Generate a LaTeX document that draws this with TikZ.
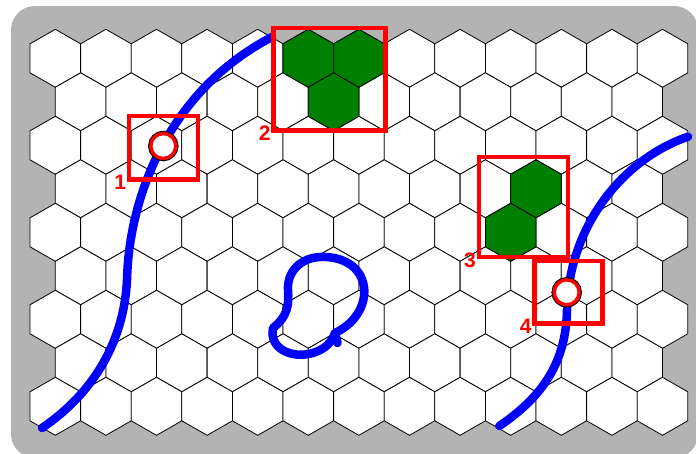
\documentclass[tikz,border=0pt]{standalone}
\usepackage{fontspec}
\newfontfamily\labfont{Liberation Sans}
\definecolor{bggray}{RGB}{179,179,179}
\definecolor{hexgreen}{RGB}{0,128,0}
\def\HW{25.3}
\def\HR{29}
\def\HH{14.5}
\newcommand\drawhex[3]{%
  \draw[#1] ({#2},{#3-\HR}) -- ({#2+\HW},{#3-\HH}) -- ({#2+\HW},{#3+\HH}) --
    ({#2},{#3+\HR}) -- ({#2-\HW},{#3+\HH}) -- ({#2-\HW},{#3-\HH}) -- cycle;}
\tikzset{
  hexcell/.style={draw=black, line width=0.8pt, fill=white},
  greencell/.style={draw=black, line width=0.8pt, fill=hexgreen},
  bluestroke/.style={draw=blue, line width=8.5pt, line cap=round, line join=round},
  redbox/.style={draw=red, line width=4.5pt},
  markout/.style={draw=black, line width=5.5pt},
  markin/.style={draw=red, line width=3.5pt, fill=white},
  boxlabel/.style={font=\labfont\bfseries\fontsize{21}{21}\selectfont, text=red,
    anchor=east, inner sep=0pt, xshift=-3pt, yshift=-3pt},
}
\begin{document}
\begin{tikzpicture}[x=1pt, y=-1pt]
\useasboundingbox (0,0) rectangle (696,453);
\fill[white] (0,0) rectangle (696,453);
\fill[bggray, rounded corners=24pt] (11,6) rectangle (698,458);
% hex grid
\foreach \r in {0,...,8}{
  \pgfmathsetmacro\cy{58.3+43.5*\r}
  \pgfmathtruncatemacro\odd{mod(\r,2)}
  \ifnum\odd=0
    \foreach \c in {0,...,12}{\pgfmathsetmacro\cx{55.3+50.6*\c}\drawhex{hexcell}{\cx}{\cy}}
  \else
    \foreach \c in {0,...,11}{\pgfmathsetmacro\cx{80.6+50.6*\c}\drawhex{hexcell}{\cx}{\cy}}
  \fi
}
% green cells
\drawhex{greencell}{308.3}{58.3}
\drawhex{greencell}{358.9}{58.3}
\drawhex{greencell}{333.6}{101.8}
\drawhex{greencell}{536.0}{188.8}
\drawhex{greencell}{510.7}{232.3}
% blue strokes
\coordinate (a0) at (42,428);
\coordinate (a1) at (127,280);
\coordinate (a2) at (272,37);
\draw[bluestroke] (a0) .. controls (95,392) and (124,340) .. (a1)
  .. controls (129,195) and (170,90) .. (a2);
\coordinate (b0) at (499.3,426);
\coordinate (b1) at (567,310);
\coordinate (b2) at (688,136.7);
\draw[bluestroke] (b0) .. controls (545,395) and (566,360) .. (b1)
  .. controls (568,230) and (620,160) .. (b2);
\coordinate (c0) at (273,328);
\coordinate (c1) at (322,349);
\coordinate (c2) at (335,333);
\coordinate (c3) at (364,287);
\coordinate (c4) at (320,257);
\coordinate (c5) at (288,290);
\coordinate (c6) at (337.5,343);
\draw[bluestroke] (c0) .. controls (268,352) and (300,362) .. (c1)
  .. controls (329,345) and (333,339) .. (c2)
  .. controls (358,322) and (366,302) .. (c3)
  .. controls (361,266) and (342,256) .. (c4)
  .. controls (300,258) and (287,272) .. (c5)
  .. controls (289,305) and (288,316) .. (c0);
\draw[bluestroke] (c2) -- (c6);
% red boxes
\draw[redbox] (129.2,115.8) rectangle (197.8,179.5);
\draw[redbox] (273.7,28) rectangle (385.3,130.5);
\draw[redbox] (479,157.2) rectangle (567.8,257.2);
\draw[redbox] (534.7,261) rectangle (602.5,323.7);
\node[boxlabel] (l1) at (129.2,179.5) {1};
\node[boxlabel] (l2) at (273.7,130.5) {2};
\node[boxlabel] (l3) at (479,257.2) {3};
\node[boxlabel] (l4) at (534.7,323.7) {4};
% markers
\coordinate (m1) at (163.3,146);
\coordinate (m2) at (566.7,292.3);
\draw[markout] (m1) circle[radius=12.5pt];
\draw[markin] (m1) circle[radius=12.5pt];
\draw[markout] (m2) circle[radius=12.5pt];
\draw[markin] (m2) circle[radius=12.5pt];
\end{tikzpicture}
\end{document}
